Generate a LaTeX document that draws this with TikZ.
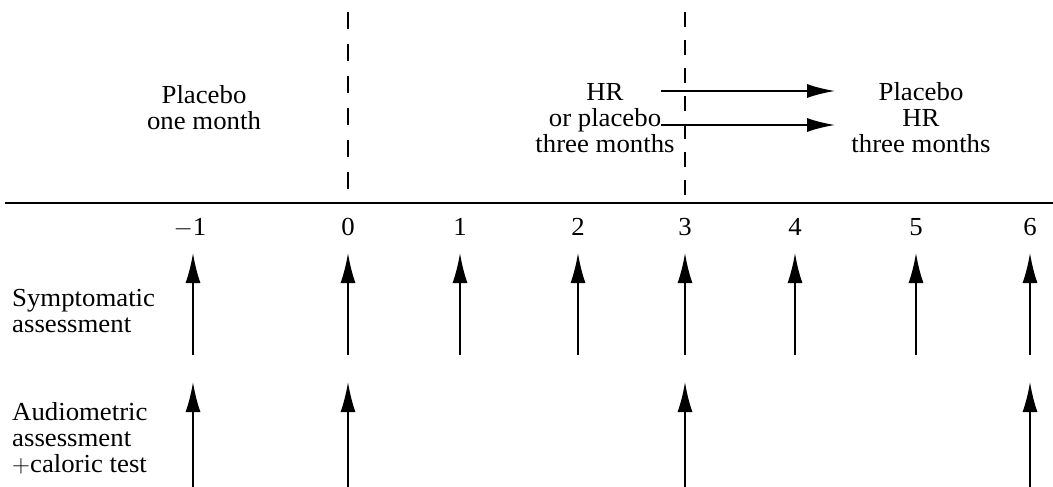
\documentclass[tikz,border=0pt]{standalone}
\usepackage{fontspec}
\setmainfont[FakeStretch=1.03]{Liberation Serif}
\usetikzlibrary{arrows.meta}
\begin{document}
\begin{tikzpicture}[x=1pt,y=-1pt,
  lbl/.style={font=\fontsize{26}{26}\selectfont, align=center, inner sep=0pt},
  side/.style={font=\fontsize{26}{26}\selectfont, align=left, inner sep=0pt, anchor=north west},
  tick/.style={font=\fontsize{26}{26}\selectfont, inner sep=0pt, anchor=base},
  uparrow/.style={line width=1.9pt, -{Latex[length=30pt,width=15pt]}},
  rarrow/.style={line width=1.9pt, -{Latex[length=28pt,width=14pt]}},
]
\useasboundingbox (0,0) rectangle (1053,487);

% axis
\coordinate (axL) at (5,203);
\coordinate (axR) at (1053,203);
\draw[line width=2.6pt] (axL) -- (axR);

% dashed separators
\coordinate (d0t) at (348,12);
\coordinate (d0b) at (348,189);
\coordinate (d3t) at (685,12);
\coordinate (d3b) at (685,195);
\draw[line width=2pt, dash pattern=on 17pt off 15pt] (d0t) -- (d0b);
\draw[line width=2pt, dash pattern=on 15pt off 13pt] (d3t) -- (d3b);

% period texts
\node[lbl] (p1) at (204,108) {Placebo\\one month};
\node[lbl] (p2) at (605,118) {HR\\or placebo\\three months};
\node[lbl] (p3) at (921,118) {Placebo\\HR\\three months};

% crossover arrows
\coordinate (a1s) at (661,91);
\coordinate (a1e) at (835,91);
\coordinate (a2s) at (661,125);
\coordinate (a2e) at (835,125);
\draw[rarrow] (a1s) -- (a1e);
\draw[rarrow] (a2s) -- (a2e);

% tick labels
\foreach \n/\x/\t in {m1/190/$-$1, t0/348/0, t1/460/1, t2/578/2, t3/685/3, t4/795/4, t5/916/5, t6/1030/6}{
  \node[tick] (\n) at (\x,235) {\t};
}

% row labels
\node[side] (sym) at (12,289) {Symptomatic\\assessment};
\node[side] (aud) at (12,402) {Audiometric\\assessment\\$+$caloric test};

% symptomatic arrows
\foreach \n/\x in {m1/193, t0/348, t1/460, t2/578, t3/685, t4/795, t5/916, t6/1030}{
  \coordinate (s\n b) at (\x,355);
  \coordinate (s\n t) at (\x,253);
  \draw[uparrow] (s\n b) -- (s\n t);
}

% audiometric arrows
\foreach \n/\x in {m1/193, t0/348, t3/685, t6/1030}{
  \coordinate (u\n b) at (\x,487);
  \coordinate (u\n t) at (\x,382);
  \draw[uparrow] (u\n b) -- (u\n t);
}
\end{tikzpicture}
\end{document}
